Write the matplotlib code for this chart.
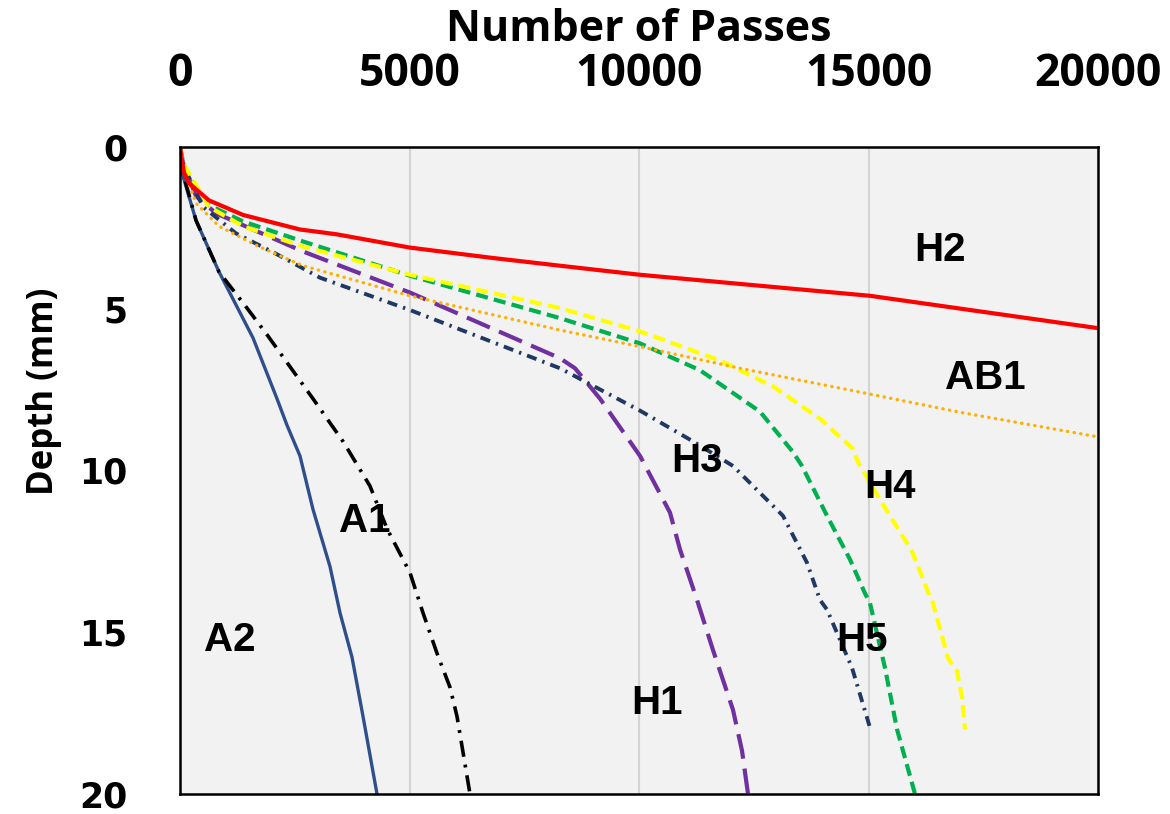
import matplotlib.pyplot as plt

# rut depth vs number of wheel passes, one curve per mix
a2_passes = [0, 65, 349, 850, 1590, 2113, 2331, 2614, 2897, 3268, 3486, 3747,
             3987, 4292]
a2_depth = [0, 0.9, 2.27, 3.86, 5.9, 7.78, 8.6, 9.55, 11.2, 12.97, 14.4, 15.77,
            17.6, 20.0]

a1_passes = [0, 65, 349, 850, 1460, 1895, 2897, 3551, 4139, 4510, 5011, 5294,
             5599, 5882, 6035, 6318]
a1_depth = [0, 0.8, 2.27, 3.86, 4.98, 5.8, 7.78, 9.1, 10.48, 11.8, 13.16, 14.4,
            15.65, 16.7, 17.6, 20.0]

h1_passes = [0, 65, 349, 784, 2680, 5011, 8279, 8606, 9150, 10022, 10675,
             10893, 11264, 11612, 12048, 12244, 12375]
h1_depth = [0, 0.5, 1.52, 2.05, 3.23, 4.5, 6.53, 6.84, 7.78, 9.55, 11.3,
            12.44, 14.0, 15.55, 17.4, 18.66, 20.0]

h2_passes = [0, 87, 196, 632, 1373, 2614, 3420, 5011, 6754, 8279, 10022, 15033,
             20000]
h2_depth = [0, 0.8, 1.12, 1.65, 2.1, 2.55, 2.7, 3.11, 3.42, 3.67, 3.95, 4.6,
            5.6]

h3_passes = [0, 65, 501, 1220, 2092, 3050, 5011, 8279, 10022, 11177, 12048,
             13137, 13660, 13943, 14096, 14641, 15033]
h3_depth = [0, 0.55, 1.85, 2.67, 3.3, 4.04, 5.04, 6.84, 8.15, 9.1, 9.86,
            11.4, 12.85, 14.0, 14.3, 16.1, 17.95]

h4_passes = [0, 65, 632, 1373, 2680, 5011, 8279, 10022, 11765, 12919, 13943,
             14662, 14771, 15250, 15948, 16340, 16405, 16732, 16928, 17037, 17102]
h4_depth = [0, 0.5, 1.85, 2.45, 3.08, 3.95, 4.98, 5.7, 6.6, 7.4, 8.4,
            9.33, 9.74, 10.9, 12.5, 13.9, 14.1, 15.8, 16.2, 17.0, 18.0]

h5_passes = [0, 65, 131, 632, 1373, 2680, 5011, 8279, 10022, 11329, 12636,
             13355, 13551, 14096, 14597, 14924, 15033, 15359, 15621, 16013]
h5_depth = [0, 0.45, 0.8, 1.8, 2.3, 2.92, 3.98, 5.29, 6.07, 6.9, 8.18,
            9.43, 9.86, 11.4, 12.75, 13.8, 14.1, 16.1, 18.0, 20.0]

ab1_passes = [0, 65, 349, 850, 1721, 2680, 5011, 8279, 10022, 12200, 14967,
              16993, 20000]
ab1_depth = [0, 0.62, 1.74, 2.45, 3.08, 3.67, 4.6, 5.66, 6.17, 6.84, 7.62,
             8.2, 8.96]

labels = ["H2", "AB1", "H3", "H4", "A1", "A2", "H5", "H1"]
label_x = [16558, 17538, 11264, 15468, 4031, 1089, 14858, 10392]
label_y = [3.17, 7.15, 9.7, 10.5, 11.57, 15.24, 15.24, 17.2]

xticks = [0, 5000, 10000, 15000, 20000]
yticks = [0, 5, 10, 15, 20]

fig = plt.figure(figsize=(11.7, 8.14), dpi=100)
ax = fig.add_axes([180 / 1170, 1 - 794 / 814, 918 / 1170, 647 / 814])
ax.set_facecolor("#F2F2F2")

lw = 3.0
ax.plot(a2_passes, a2_depth, color="#2F4F8C", lw=2.4)
ax.plot(a1_passes, a1_depth, color="black", lw=2.6, ls=(0, (4.5, 2.2, 0.8, 2.2)))
ax.plot(h1_passes, h1_depth, color="#7030A0", lw=lw, ls=(0, (6, 2.4)))
ax.plot(h3_passes, h3_depth, color="#203864", lw=2.8, ls=(0, (2.6, 1.6, 0.6, 1.6)))
ax.plot(h5_passes, h5_depth, color="#00B050", lw=lw, ls=(0, (2.9, 1.5)))
ax.plot(h4_passes, h4_depth, color="#FFFF00", lw=lw, ls=(0, (2.9, 1.5)))
ax.plot(ab1_passes, ab1_depth, color="#FFB000", lw=2.4, ls=(0, (0.1, 1.9)),
        dash_capstyle="round")
ax.plot(h2_passes, h2_depth, color="#FF0000", lw=3.0)

for lab, x, y in zip(labels, label_x, label_y):
    ax.text(x, y, lab, ha="center", va="center", fontsize=29,
            fontweight="bold", family="Liberation Sans")

ax.set_xlim(0, 20000)
ax.set_ylim(20, 0)
ax.set_xticks(xticks)
ax.set_yticks(yticks)
ax.set_xticklabels([str(t) for t in xticks], fontsize=32, fontweight="bold",
                   family="Open Sans")
ax.set_yticklabels([str(t) for t in yticks], fontsize=25, fontweight="bold",
                   family="DejaVu Sans")
ax.xaxis.tick_top()
ax.xaxis.set_label_position("top")
ax.tick_params(axis="x", length=0, pad=36)
ax.tick_params(axis="y", length=0, pad=38)
ax.grid(axis="x", color="#D4D4D4", lw=1.5)
ax.set_axisbelow(True)

ax.set_xlabel("Number of Passes", fontsize=31, fontweight="bold",
              family="Open Sans", labelpad=8)
ax.set_ylabel("Depth (mm)", fontsize=25, fontweight="bold",
              family="Open Sans")
ax.yaxis.set_label_coords(-0.1285, 0.623)

for sp in ax.spines.values():
    sp.set_linewidth(1.8)
    sp.set_color("black")

fig.savefig("out.png", dpi=100)
